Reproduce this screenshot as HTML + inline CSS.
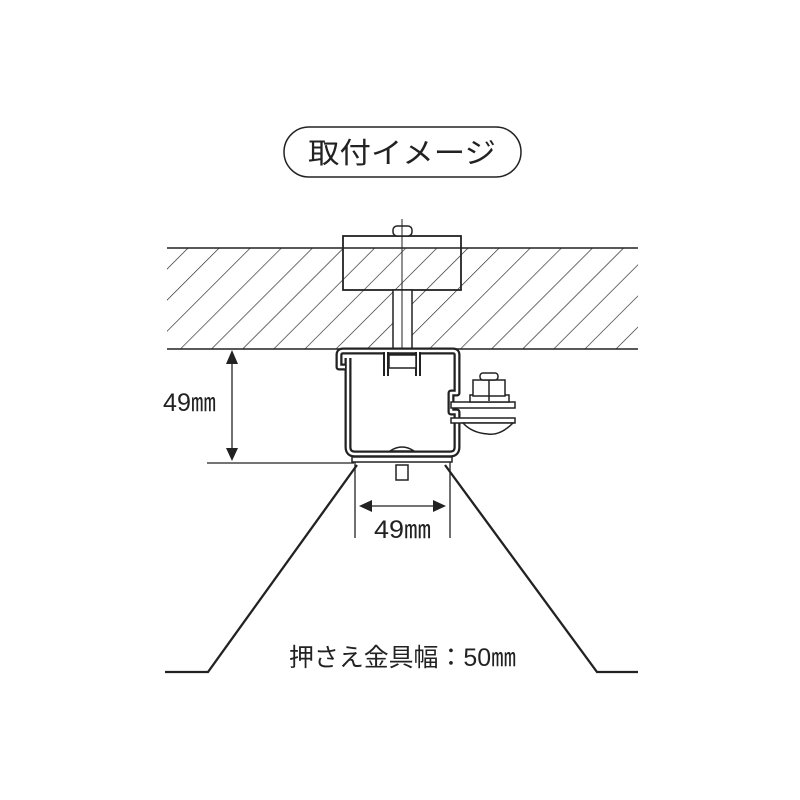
<!DOCTYPE html>
<html><head><meta charset="utf-8"><style>
html,body{margin:0;padding:0;background:#fff;}
svg{display:block;}
text{font-family:"Liberation Sans","Noto Sans CJK JP",sans-serif;fill:#222;}
</style></head><body>
<svg width="800" height="800" viewBox="0 0 800 800" xmlns="http://www.w3.org/2000/svg">
<defs>
<pattern id="h" patternUnits="userSpaceOnUse" width="22" height="22" patternTransform="rotate(45)">
<line x1="0" y1="0" x2="0" y2="22" stroke="#222" stroke-width="1.3"/>
</pattern>
<clipPath id="band"><rect x="167" y="248" width="471" height="101"/></clipPath>
</defs>
<!-- title pill -->
<rect x="284" y="127" width="237" height="50" rx="25" fill="#fff" stroke="#222" stroke-width="1.5"/>
<text x="402" y="163" font-size="29" text-anchor="middle" textLength="188" lengthAdjust="spacingAndGlyphs">取付イメージ</text>
<!-- hatch band -->
<rect x="167" y="248" width="471" height="101" fill="url(#h)"/>
<line x1="167" y1="248" x2="638" y2="248" stroke="#222" stroke-width="1.5"/>
<line x1="167" y1="349" x2="638" y2="349" stroke="#222" stroke-width="1.5"/>
<!-- block -->
<rect x="343" y="236" width="118" height="54" fill="none" stroke="#222" stroke-width="1.8"/>
<rect x="393" y="226" width="19" height="10" rx="4" fill="#fff" stroke="#222" stroke-width="1.5"/>
<rect x="393" y="290" width="19" height="59" fill="#fff" stroke="#222" stroke-width="1.5"/>
<line x1="402" y1="219" x2="402" y2="368" stroke="#222" stroke-width="1"/>
<!-- channel -->
<g fill="none" stroke-linejoin="round">
<path d="M345,367 L339,367 L339,355 Q339,351 343,351 L453,351 Q457,351 457,355 L457,393 L451,393 L451,412 L457,412 L457,447 Q457,454 450,454 L355,454 Q348,454 348,447 L348,358" stroke="#222" stroke-width="7"/>
<path d="M345,367 L339,367 L339,355 Q339,351 343,351 L453,351 Q457,351 457,355 L457,393 L451,393 L451,412 L457,412 L457,447 Q457,454 450,454 L355,454 Q348,454 348,447 L348,358" stroke="#fff" stroke-width="2.5"/>
<path d="M386,352 L386,376 M418,352 L418,376" stroke="#222" stroke-width="6"/>
<path d="M386,352 L386,376 M418,352 L418,376" stroke="#fff" stroke-width="2"/>
</g>
<rect x="389" y="355" width="27" height="13" fill="#fff" stroke="#222" stroke-width="1.5"/>
<path d="M390,451 Q402,443 414,451 Z" fill="#fff" stroke="#222" stroke-width="1.5"/>
<!-- nut assembly -->
<rect x="451" y="402" width="64" height="6" fill="#fff" stroke="#222" stroke-width="1.5"/>
<rect x="451" y="418" width="64" height="5" fill="#fff" stroke="#222" stroke-width="1.5"/>
<path d="M463,423 L513,423 Q500,436 488,434 Q472,433 463,423 Z" fill="#fff" stroke="#222" stroke-width="1.5"/>
<rect x="470" y="395" width="39" height="7" fill="#fff" stroke="#222" stroke-width="1.5"/>
<rect x="473" y="380" width="32" height="16" fill="#fff" stroke="#222" stroke-width="1.5"/>
<line x1="489" y1="380" x2="489" y2="401" stroke="#222" stroke-width="1.5"/>
<rect x="480" y="373" width="18" height="7" rx="3" fill="#fff" stroke="#222" stroke-width="1.5"/>
<!-- base plate and stub -->
<rect x="352" y="457" width="100" height="5" fill="#fff" stroke="#222" stroke-width="1.5"/>
<rect x="396" y="465" width="12" height="15" fill="#fff" stroke="#222" stroke-width="1.5"/>
<!-- roof -->
<polyline points="165,672 208,672 357,465" fill="none" stroke="#222" stroke-width="2.3"/>
<polyline points="445,465 597,672 638,672" fill="none" stroke="#222" stroke-width="2.3"/>
<!-- left dimension -->
<line x1="207" y1="463" x2="354" y2="463" stroke="#222" stroke-width="1.3"/>
<line x1="232" y1="360" x2="232" y2="452" stroke="#222" stroke-width="1.3"/>
<path d="M226,364 L232,350 L238,364 Z M226,448 L232,461 L238,448 Z" fill="#222"/>
<text x="163" y="411" font-size="25" textLength="53" lengthAdjust="spacingAndGlyphs">49㎜</text>
<!-- bottom dimension -->
<line x1="355" y1="462" x2="355" y2="538" stroke="#222" stroke-width="1.3"/>
<line x1="450" y1="462" x2="450" y2="538" stroke="#222" stroke-width="1.3"/>
<line x1="368" y1="506" x2="437" y2="506" stroke="#222" stroke-width="1.3"/>
<path d="M372,500 L359,506 L372,512 Z M433,500 L446,506 L433,512 Z" fill="#222"/>
<text x="374" y="538" font-size="25" textLength="57" lengthAdjust="spacingAndGlyphs">49㎜</text>
<!-- bottom label -->
<text x="289" y="666" font-size="25" textLength="227" lengthAdjust="spacingAndGlyphs">押さえ金具幅：50㎜</text>
</svg>
</body></html>
